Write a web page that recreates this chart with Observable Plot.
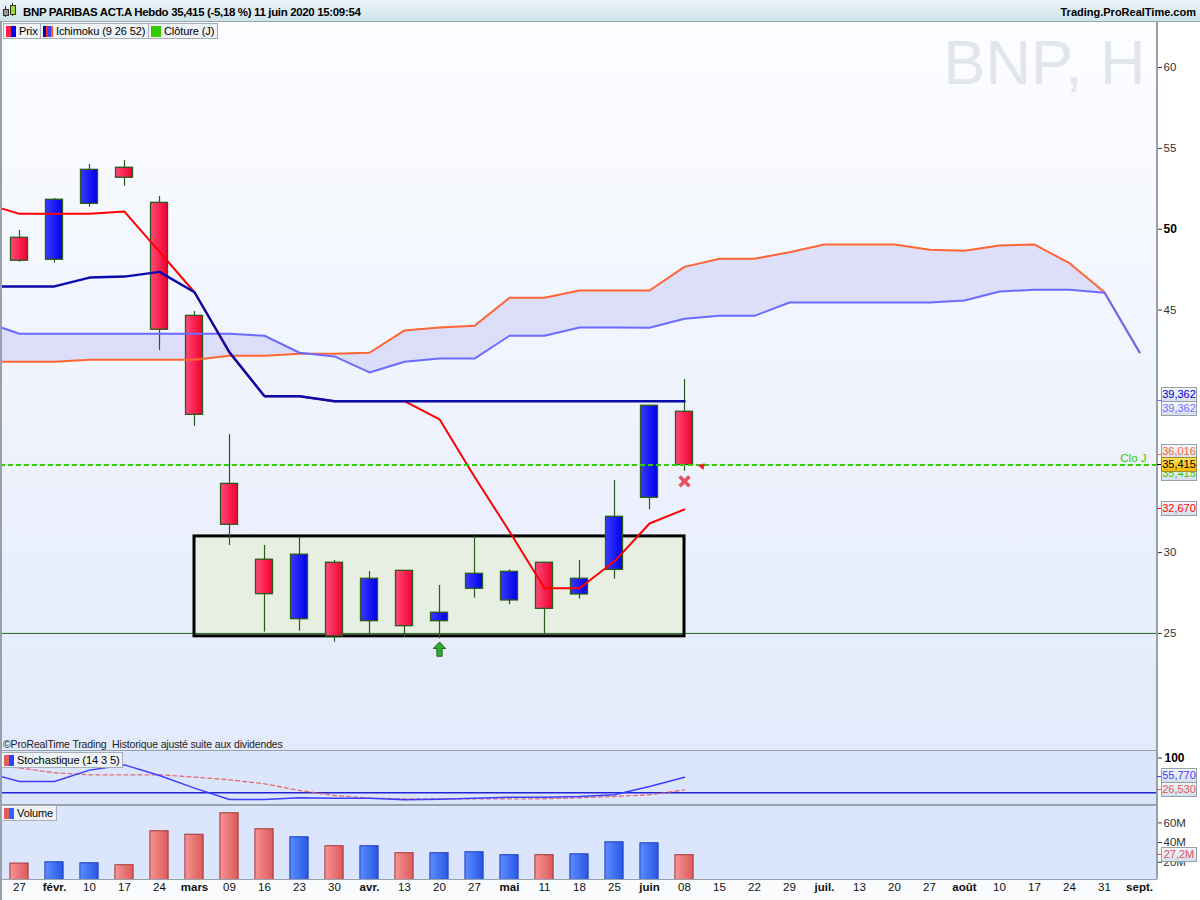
<!DOCTYPE html>
<html lang="fr"><head><meta charset="utf-8"><title>BNP PARIBAS ACT.A Hebdo</title>
<script src="https://cdn.jsdelivr.net/npm/d3@7"></script>
<script src="https://cdn.jsdelivr.net/npm/@observablehq/plot@0.6"></script>
<style>
body{margin:0;background:#fff;}
#root{position:relative;width:1200px;height:900px;overflow:hidden;font-family:"Liberation Sans",Arial,sans-serif;color:#000;background:#fff;}
.leg{position:absolute;height:14px;border:1px solid #a6afb8;background:#eef2f5;font-size:11px;line-height:14px;padding:0 3px 0 2px;white-space:nowrap;letter-spacing:-0.1px;}
.ico{display:inline-block;width:10px;height:11px;vertical-align:-2px;margin-right:3px;}
.lbl{position:absolute;left:1161px;width:34px;height:13px;border:1px solid #95a0ab;background:linear-gradient(#f4f7fb,#d6dfec);font-size:11px;line-height:13px;text-align:center;white-space:nowrap;}
</style></head>
<body><div id="root"></div>
<script>
// ---------- DATA ----------
const weekLabels = ["27","févr.","10","17","24","mars","09","16","23","30","avr.","13","20","27","mai","11","18","25","juin","08","15","22","29","juil.","13","20","27","août","10","17","24","31","sept."];
// weekly candles, weeks 0..19 (27 janv. -> 08 juin 2020)
const open  = [49.47,48.11,51.57,53.80,51.63,44.64,34.25,29.56,25.88,29.37,25.76,28.87,25.76,27.76,27.04,29.37,27.41,28.93,33.39,38.71];
const high  = [49.92,51.90,54.00,54.25,52.02,44.91,37.30,30.44,30.95,29.51,28.83,28.90,27.97,31.12,28.93,29.40,29.51,34.46,39.10,40.70];
const low   = [47.96,47.90,51.36,52.66,42.50,37.80,30.44,25.08,25.14,24.46,24.98,24.77,24.67,27.18,26.77,24.92,27.12,28.36,32.65,35.03];
const close = [48.05,51.82,53.67,53.18,43.78,38.52,31.72,27.43,29.87,24.82,28.38,25.45,26.28,28.69,28.81,26.52,28.38,32.21,39.08,35.415];
const volumeM = [18.7,20.0,19.0,17.0,51.5,48.0,69.8,53.5,45.4,36.3,36.3,29.2,29.2,30.2,27.2,27.2,28.1,40.3,39.3,27.2];
// Ichimoku (9 26 52), first value = week -1
const tenkan = [51.6,50.95,50.95,50.95,51.09,48.6,46.10,42.35,39.67,39.67,39.362,39.362,39.362,38.24,34.69,31.3,27.79,27.79,29.46,31.8,32.67];
const kijun  = [46.46,46.46,46.46,47.01,47.07,47.36,46.10,42.39,39.67,39.67,39.362,39.362,39.362,39.362,39.362,39.362,39.362,39.362,39.362,39.362,39.362];
const senkouA = [41.80,41.80,41.80,41.92,41.92,41.92,41.92,42.17,42.17,42.29,42.29,42.36,43.74,43.92,44.03,45.76,45.76,46.21,46.21,46.21,47.67,48.17,48.17,48.58,49.05,49.05,49.05,48.73,48.66,48.99,49.05,47.90,46.10,42.37];
const senkouB = [44.27,43.53,43.53,43.53,43.53,43.53,43.53,43.53,43.41,42.36,42.13,41.14,41.80,42.00,42.00,43.41,43.41,43.92,43.92,43.90,44.46,44.64,44.64,45.47,45.47,45.47,45.47,45.47,45.59,46.15,46.25,46.25,46.07,42.39];
// Stochastique (14 3 5), first value = week -1
const stochK = [67.2,46.0,46.0,72.0,84.0,59.8,30.6,4.6,4.6,8.5,7.6,7.6,3.9,5.3,7.6,9.9,9.9,11.5,15.4,34.5,55.77];
const stochD = [85.0,77.0,66.0,61.4,61.4,61.4,55.9,49.9,40.7,25.3,13.8,7.6,6.2,6.2,6.2,6.2,6.2,8.5,11.5,15.4,26.53];
const stochLevel = [20];
// annotations
const boxWeeks = [5, 19];
const boxPrices = [24.82, 31.0];
const supportLevel = [25];
const signalUpWeek = [12], signalUpPrice = [24.03];
const crossWeek = [19], crossPrice = [34.40];
const lastClose = 35.415;
const priceTicks = [25, 30, 45, 50, 55, 60];
const volTicks = [20, 40, 60];

// ---------- TABLES ----------
const candles = open.map((o, i) => ({i, open: o, high: high[i], low: low[i], close: close[i], vol: volumeM[i]}));
const upC = candles.filter(d => d.close >= d.open), downC = candles.filter(d => d.close < d.open);
const tk = tenkan.map((v, k) => ({i: k - 1, v}));
const kj = kijun.map((v, k) => ({i: k - 1, v}));
const kumo = senkouA.map((a, k) => ({i: k - 1, a, b: senkouB[k]}));
const stoch = stochK.map((k, j) => ({i: j - 1, k, d: stochD[j]}));
const xl = weekLabels.map((t, i) => ({i, t, bold: /[a-zéû]/i.test(t)}));

const xDomain = [-0.543, 32.514];
const W = 1200, MR = 43, HW = 0.243, VW = 0.26;
const FONT = "Liberation Sans, Arial, sans-serif";
const root = document.getElementById("root");
function div(style, html) { const d = document.createElement("div"); d.style.cssText = "position:absolute;" + style; if (html != null) d.innerHTML = html; root.appendChild(d); return d; }
function grad(svg, specs) {
  const defs = d3.select(svg).insert("defs", ":first-child");
  for (const [id, c0, c1] of specs) {
    const lg = defs.append("linearGradient").attr("id", id).attr("x1", 0).attr("x2", 1).attr("y1", 0).attr("y2", 0);
    lg.append("stop").attr("offset", 0).attr("stop-color", c0);
    lg.append("stop").attr("offset", 1).attr("stop-color", c1);
  }
}
const arrowUp = {draw(ctx, size) {
  const s = Math.sqrt(size) / 2;
  ctx.moveTo(0, -1.15 * s); ctx.lineTo(s, -0.1 * s); ctx.lineTo(0.42 * s, -0.1 * s); ctx.lineTo(0.42 * s, 1.15 * s);
  ctx.lineTo(-0.42 * s, 1.15 * s); ctx.lineTo(-0.42 * s, -0.1 * s); ctx.lineTo(-s, -0.1 * s); ctx.closePath();
}};

// ---------- BACKGROUNDS ----------
div("left:0;top:22px;width:1157px;height:728px;background:linear-gradient(#fcfdff,#e3eafb);");
div("left:0;top:750px;width:1157px;height:129px;background:#dbe5fb;");
div("left:0;top:879px;width:1157px;height:21px;background:#fafbfd;");

// ---------- MAIN PANEL ----------
const main = Plot.plot({
  width: W, height: 728, marginLeft: 0, marginRight: MR, marginTop: 0, marginBottom: 0,
  style: {background: "transparent", fontFamily: FONT, overflow: "visible"},
  x: {domain: xDomain, axis: null},
  y: {domain: [17.76, 62.783], axis: null},
  marks: [
    Plot.text(["BNP, H"], {frameAnchor: "top-right", dx: -12, dy: 17, lineAnchor: "top", textAnchor: "end", fontSize: 63, fill: "#e3e5ee", text: d => d}),
    Plot.rect([0], {x1: () => boxWeeks[0], x2: () => boxWeeks[1], y1: () => boxPrices[0], y2: () => boxPrices[1], fill: "#e7efe3"}),
    Plot.ruleY(supportLevel, {stroke: "#1f6a1f", strokeWidth: 1}),
    Plot.areaY(kumo, {x: "i", y1: "a", y2: "b", fill: "#c8c8f6", fillOpacity: 0.5, clip: true}),
    Plot.rect([0], {x1: () => boxWeeks[0], x2: () => boxWeeks[1], y1: () => boxPrices[0], y2: () => boxPrices[1], fill: "none", stroke: "#000", strokeWidth: 3}),
    Plot.ruleX(candles, {x: "i", y1: "low", y2: "high", stroke: "#2a5a1c", strokeWidth: 1.2}),
    Plot.rect(downC, {x1: d => d.i - HW, x2: d => d.i + HW, y1: "open", y2: "close", fill: "url(#gRed)", stroke: "#2a5a1c", strokeWidth: 1.3}),
    Plot.rect(upC, {x1: d => d.i - HW, x2: d => d.i + HW, y1: "open", y2: "close", fill: "url(#gBlue)", stroke: "#2a5a1c", strokeWidth: 1.3}),
    Plot.line(kumo, {x: "i", y: "a", stroke: "#ff6633", strokeWidth: 2, clip: true}),
    Plot.line(kumo, {x: "i", y: "b", stroke: "#6b6bff", strokeWidth: 2, clip: true}),
    Plot.line(tk, {x: "i", y: "v", stroke: "#ff0000", strokeWidth: 2, clip: true}),
    Plot.line(kj, {x: "i", y: "v", stroke: "#0a0aa8", strokeWidth: 2.4, clip: true}),
    Plot.ruleY([lastClose], {stroke: "#33cc00", strokeWidth: 2, strokeDasharray: "5,3"}),
    Plot.text([lastClose], {y: d => d, frameAnchor: "right", dx: -11, dy: -7, textAnchor: "end", text: () => "Clo J", fill: "#33cc00", fontSize: 11.5}),
    Plot.dot(signalUpWeek, {x: d => d, y: (d, k) => signalUpPrice[k], symbol: arrowUp, r: 7, fill: "#33aa33", stroke: "#1c6a1c", strokeWidth: 1}),
    Plot.dot(crossWeek, {x: d => d, y: (d, k) => crossPrice[k], symbol: "times", r: 4.5, stroke: "#e8505f", strokeWidth: 3.5}),
    Plot.dot([lastClose], {x: () => candles.length - 0.5, y: d => d - 0.08, symbol: "triangle", rotate: 160, r: 2.6, fill: "#ee2030", stroke: "none"}),
    Plot.axisY({anchor: "right", ticks: priceTicks, tickSize: 4, tickPadding: 2, fontSize: 11.5, color: "#333", label: null, tickFormat: d => d === 50 ? "" : String(d)}),
    Plot.text([50], {y: d => d, frameAnchor: "right", dx: 6, textAnchor: "start", text: d => String(d), fontWeight: "bold", fontSize: 12, fill: "#000"})
  ]
});
grad(main, [["gRed", "#ff4a78", "#f2002f"], ["gBlue", "#3a3aff", "#0000ea"]]);
div("left:0;top:22px;width:1200px;height:728px;").appendChild(main);

// ---------- STOCHASTIC ----------
const st = Plot.plot({
  width: W, height: 54, marginLeft: 0, marginRight: MR, marginTop: 0, marginBottom: 0,
  style: {background: "transparent", fontFamily: FONT, overflow: "visible"},
  x: {domain: xDomain, axis: null},
  y: {domain: [-6.9, 117.2], axis: null},
  marks: [
    Plot.ruleY(stochLevel, {stroke: "#2222d6", strokeWidth: 1.5}),
    Plot.line(stoch, {x: "i", y: "d", stroke: "#e45a5a", strokeOpacity: 0.85, strokeWidth: 1.3, strokeDasharray: "4,3", clip: true}),
    Plot.line(stoch, {x: "i", y: "k", stroke: "#3d3dff", strokeWidth: 1.4, clip: true}),
    Plot.axisY({anchor: "right", ticks: [100], tickSize: 4, label: null, tickFormat: () => "", color: "#333"}),
    Plot.text([100], {y: d => d, frameAnchor: "right", dx: 7, textAnchor: "start", text: d => String(d), fontWeight: "bold", fontSize: 12})
  ]
});
div("left:0;top:750px;width:1200px;height:54px;").appendChild(st);

// ---------- VOLUME ----------
const vo = Plot.plot({
  width: W, height: 96, marginLeft: 0, marginRight: MR, marginTop: 0, marginBottom: 21,
  style: {background: "transparent", fontFamily: FONT, overflow: "visible"},
  x: {domain: xDomain, axis: null},
  y: {domain: [2.5, 78.7], axis: null},
  marks: [
    Plot.rect(downC, {x1: d => d.i - VW, x2: d => d.i + VW, y1: 0, y2: "vol", fill: "url(#gVRed)", stroke: "#a33535", strokeWidth: 1, clip: true}),
    Plot.rect(upC, {x1: d => d.i - VW, x2: d => d.i + VW, y1: 0, y2: "vol", fill: "url(#gVBlue)", stroke: "#1f3fbf", strokeWidth: 1, clip: true}),
    Plot.axisY({anchor: "right", ticks: volTicks, tickSize: 4, tickPadding: 2, fontSize: 11.5, color: "#333", label: null, tickFormat: d => d + "M"}),
    Plot.text(xl.filter(d => !d.bold), {x: "i", text: "t", frameAnchor: "bottom", dy: 11, fontSize: 11.5, fill: "#111"}),
    Plot.text(xl.filter(d => d.bold), {x: "i", text: "t", frameAnchor: "bottom", dy: 11, fontSize: 11.5, fontWeight: "bold", fill: "#111"})
  ]
});
grad(vo, [["gVRed", "#f79494", "#dc5a5a"], ["gVBlue", "#5b8dff", "#2858e4"]]);
div("left:0;top:804px;width:1200px;height:96px;").appendChild(vo);

// ---------- FRAME LINES ----------
div("left:0;top:750px;width:1157px;height:1px;background:#97a1ab;");
div("left:0;top:804px;width:1157px;height:1.5px;background:#97a1ab;");
div("left:0;top:879px;width:1157px;height:1px;background:#97a1ab;");
div("left:1156px;top:22px;width:1.5px;height:857px;background:#97a1ab;");
div("left:0;top:22px;width:1.5px;height:878px;background:#97a1ab;");

// ---------- HEADER ----------
div("left:0;top:0;width:1200px;height:21px;background:linear-gradient(#ebf5f9,#cfe3eb);border-bottom:1px solid #98a3ac;");
div("left:5px;top:6px;width:1px;height:11px;background:#333;");
div("left:3px;top:9px;width:4px;height:5px;background:#999;border:1px solid #333;");
div("left:12px;top:3px;width:1px;height:13px;background:#333;");
div("left:10px;top:5px;width:4px;height:8px;background:#99dd33;border:1px solid #333;");
div("left:23px;top:5px;line-height:14px;font-weight:bold;font-size:11.5px;letter-spacing:-0.35px;white-space:nowrap;", "BNP PARIBAS ACT.A Hebdo 35,415 (-5,18 %) 11 juin 2020 15:09:54");
div("right:4px;top:5px;line-height:14px;font-weight:bold;font-size:11px;white-space:nowrap;", "Trading.ProRealTime.com");

// legends
const legP = div("left:3px;top:23px;", '<span class="ico" style="background:linear-gradient(90deg,#ff2050 50%,#0000ff 50%)"></span>Prix'); legP.className = "leg";
const legI = div("left:40px;top:23px;", '<span class="ico" style="background:linear-gradient(90deg,#0000aa 25%,#ff2020 25%,#ff2020 50%,#4040ff 50%,#4040ff 75%,#ff5522 75%)"></span>Ichimoku (9 26 52)'); legI.className = "leg";
const legC = div("left:148px;top:23px;", '<span class="ico" style="background:#33cc00"></span>Clôture (J)'); legC.className = "leg";
const legS = div("left:1px;top:752px;", '<span class="ico" style="background:linear-gradient(90deg,#e06060 50%,#3040ff 50%)"></span>Stochastique (14 3 5)'); legS.className = "leg";
const legV = div("left:1px;top:805px;", '<span class="ico" style="background:linear-gradient(90deg,#e06060 50%,#3060ff 50%)"></span>Volume'); legV.className = "leg";
div("left:3px;top:738px;font-size:10.5px;line-height:12px;letter-spacing:-0.15px;white-space:nowrap;color:#222;", "©ProRealTime Trading&nbsp; Historique ajusté suite aux dividendes");

// ---------- RIGHT VALUE LABELS ----------
function valueLabel(top0, scale, v, text, color, off, extra) {
  const y = top0 + scale.apply(v);
  div(`left:1157px;top:${y - 0.5}px;width:5px;height:1px;background:${color};`);
  const d = div(`top:${y + off - 7.5}px;color:${color};${extra || ""}`, text);
  d.className = "lbl";
}
const ys = main.scale("y"), yst = st.scale("y"), yvo = vo.scale("y");
const fmt = v => String(v.toFixed(3)).replace(".", ",");
valueLabel(22, ys, kijun[kijun.length - 1], fmt(kijun[kijun.length - 1]), "#0000cc", -6.5);
valueLabel(22, ys, kijun[kijun.length - 1], fmt(kijun[kijun.length - 1]), "#7272ff", 7.5);
valueLabel(22, ys, 36.016, "36,016", "#ff6633", -3.5);
valueLabel(22, ys, lastClose, fmt(lastClose), "#33cc00", 8.5);
valueLabel(22, ys, lastClose, fmt(lastClose), "#000", 0, "background:linear-gradient(#ffe25a,#f5b800);border-color:#a08a40;");
valueLabel(22, ys, tenkan[tenkan.length - 1], fmt(tenkan[tenkan.length - 1]), "#ff0000", 0);
valueLabel(750, yst, stochK[stochK.length - 1], fmt(stochK[stochK.length - 1]), "#3d3dff", -1.5);
valueLabel(750, yst, stochD[stochD.length - 1], fmt(stochD[stochD.length - 1]), "#e05555", 0.5);
valueLabel(804, yvo, volumeM[volumeM.length - 1], String(volumeM[volumeM.length - 1]).replace(".", ",") + "M", "#e05555", 0);
</script></body></html>
